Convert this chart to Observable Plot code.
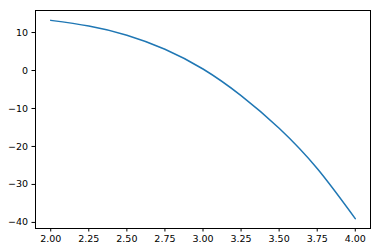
<!DOCTYPE html>
<html>
<head>
<meta charset="utf-8">
<script src="https://cdn.jsdelivr.net/npm/d3@7"></script>
<script src="https://cdn.jsdelivr.net/npm/@observablehq/plot@0.6"></script>
<style>
  html, body { margin: 0; padding: 0; background: #fff; }
  #chart svg { display: block; }
</style>
</head>
<body>
<div id="chart"></div>
<script>
const xValues = [2.0, 2.25, 2.5, 2.75, 3.0, 3.25, 3.5, 3.75, 4.0];
const yValues = [13.2, 11.7, 9.3, 5.6, 0.4, -6.6, -15.2, -25.8, -39.0];
const xTicks = [2.0, 2.25, 2.5, 2.75, 3.0, 3.25, 3.5, 3.75, 4.0];
const yTicks = [-40, -30, -20, -10, 0, 10];

const data = xValues.map((x, i) => ({x, y: yValues[i]}));

const chart = Plot.plot({
  width: 380,
  height: 252,
  marginLeft: 35,
  marginRight: 10,
  marginTop: 10,
  marginBottom: 24,
  style: {fontFamily: "DejaVu Sans", fontSize: "9.5px", color: "#000", background: "#fff"},
  x: {domain: [1.9, 4.1]},
  y: {domain: [-41.6, 15.8]},
  marks: [
    Plot.line(data, {x: "x", y: "y", stroke: "#1f77b4", strokeWidth: 1.5, curve: "natural"}),
    Plot.frame({stroke: "#000", strokeWidth: 1}),
    Plot.axisX(xTicks, {tickFormat: d3.format(".2f"), tickSize: 3.5, tickPadding: 3, label: null, stroke: "#000"}),
    Plot.axisY(yTicks, {tickFormat: d3.format("d"), tickSize: 3.5, tickPadding: 4, label: null, stroke: "#000"})
  ]
});
document.getElementById("chart").appendChild(chart);
</script>
</body>
</html>
